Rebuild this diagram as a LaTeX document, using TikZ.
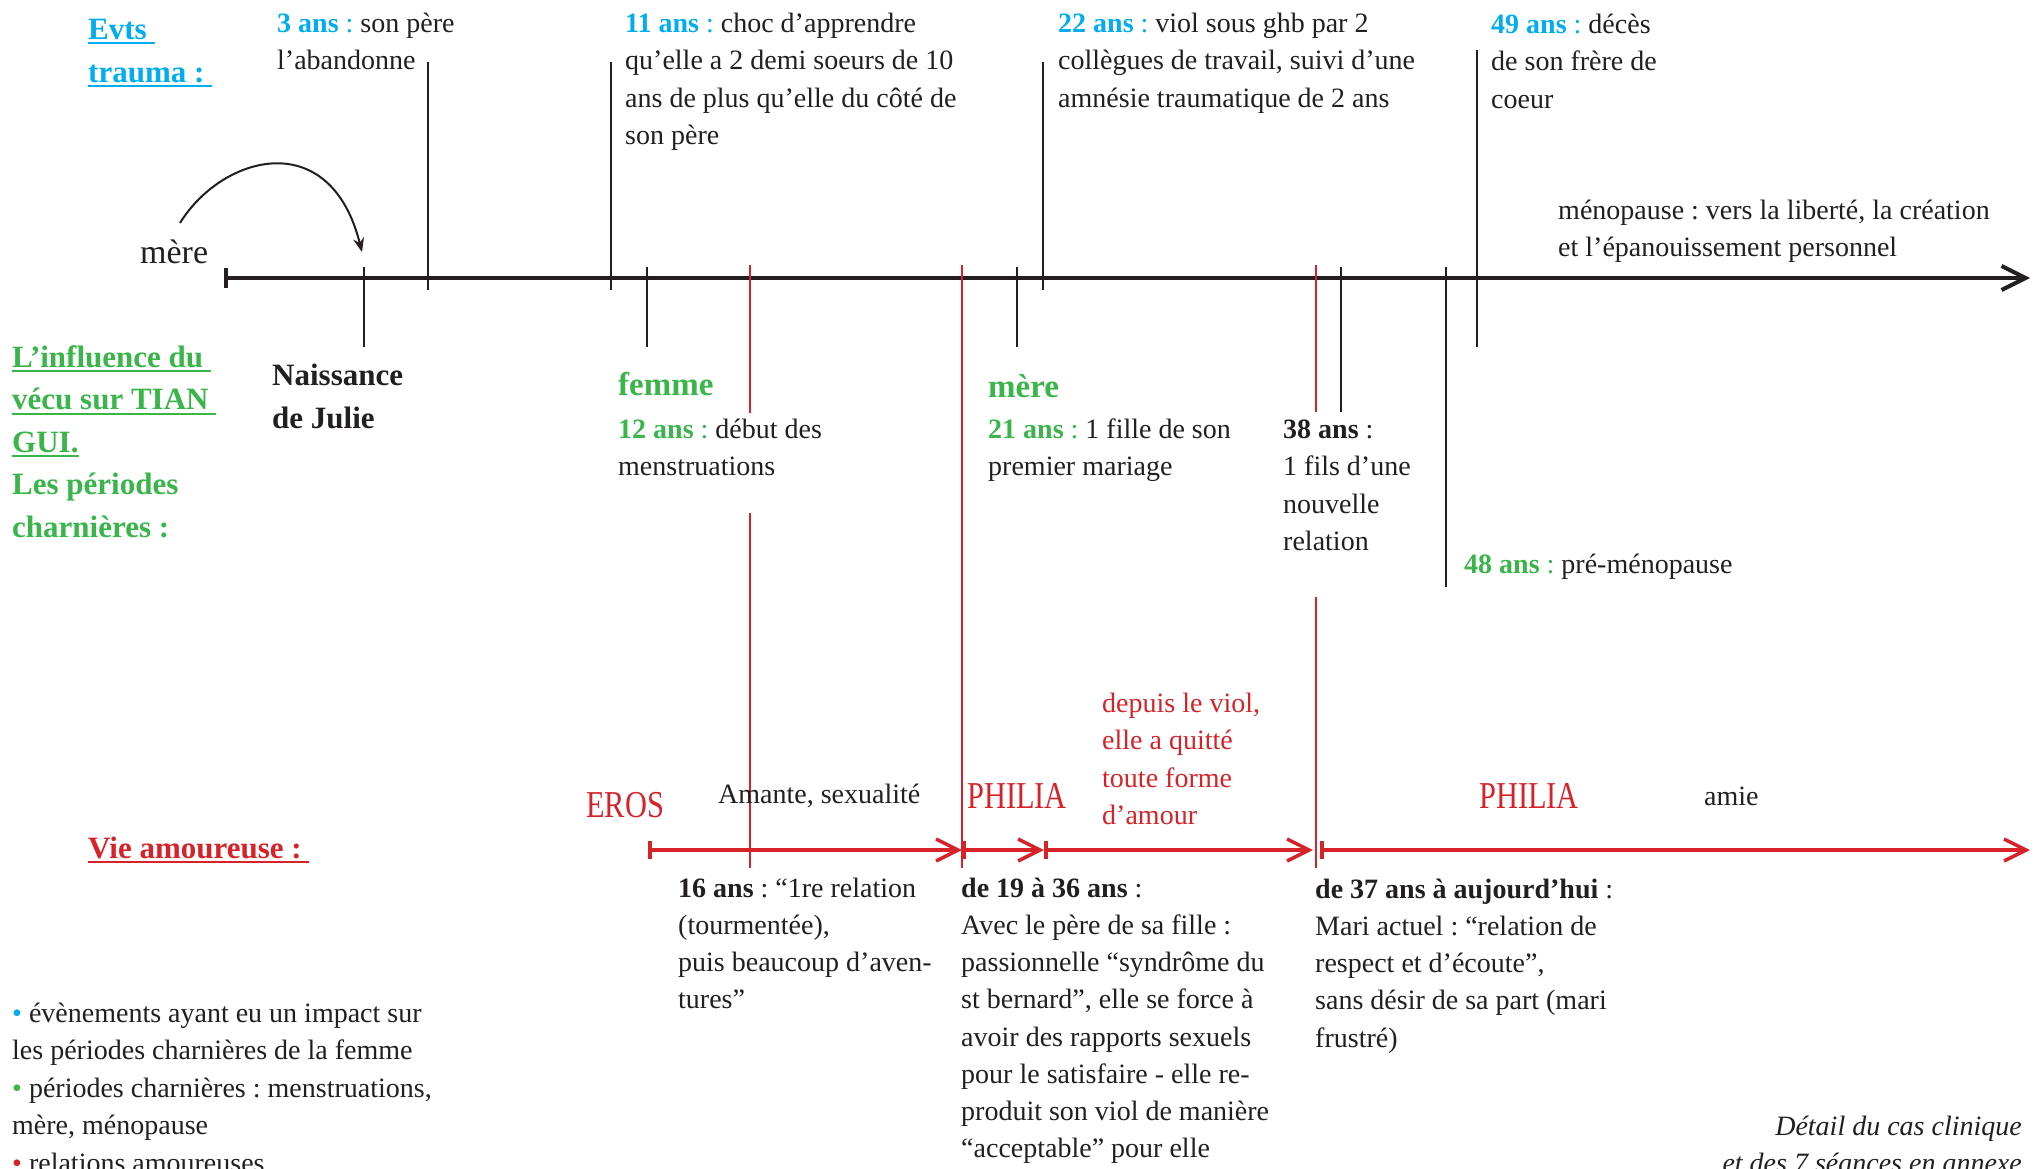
\documentclass[tikz,border=0pt]{standalone}
\usepackage{fontspec}
\setmainfont{Liberation Serif}
\usepackage{graphicx}
\usetikzlibrary{arrows.meta}
\frenchspacing
\definecolor{cy}{RGB}{0,174,239}
\definecolor{gr}{RGB}{57,181,74}
\definecolor{rd}{RGB}{214,35,42}
\definecolor{ink}{RGB}{35,31,32}
\newcommand{\fs}{\rule{0pt}{22pt}}
\newcommand{\hs}{\rule{0pt}{25pt}}
\newcommand{\uln}[1]{\leavevmode\setbox0=\hbox{#1}\rlap{\rule[-5pt]{\wd0}{2pt}}\box0}
\newcommand{\cnd}[1]{\scalebox{0.8}[1]{#1}}
\newcommand{\ag}[2]{{\color{#1}\textbf{#2} :}}
\tikzset{
  txt/.style={inner sep=0pt, anchor=north west, align=left, text=ink, font=\fontsize{28}{37.5}\selectfont},
  txtb/.style={txt, font=\fontsize{28}{37.2}\selectfont},
  one/.style={inner sep=0pt, anchor=base west, text=ink, font=\fontsize{28}{37.5}\selectfont},
  hd/.style={inner sep=0pt, anchor=north west, align=left, font=\bfseries\fontsize{31}{43}\selectfont},
  big/.style={inner sep=0pt, anchor=base west, text=gr, font=\bfseries\fontsize{33}{40}\selectfont},
  greek/.style={inner sep=0pt, anchor=base west, text=rd, font=\fontsize{38}{40}\selectfont},
  axisline/.style={line width=4pt, draw=ink, {Bar[width=20pt]}-{Straight Barb[length=24pt,width=24pt]}},
  tick/.style={line width=2.4pt, draw=ink},
  redtick/.style={line width=2pt, draw=rd},
  loveline/.style={line width=3.5pt, draw=rd},
  lovebar/.style={{Bar[width=18pt]}-{Straight Barb[length=22pt,width=22pt]}},
  curvy/.style={line width=2pt, draw=ink, -{Stealth[length=14pt,width=11pt]}}
}
\begin{document}
\begin{tikzpicture}[x=1pt,y=-1pt]
\useasboundingbox (0,0) rectangle (2038,1168);
\fill[white] (0,0) rectangle (2038,1168);

% ---- main axis and ticks
\coordinate (axL) at (224,278);
\coordinate (axR) at (2030,278);
\draw[axisline] (axL) -- (axR);

\draw[tick] (364,267) -- (364,347);
\draw[tick] (428,62) -- (428,290);
\draw[tick] (611,62) -- (611,290);
\draw[tick] (647,267) -- (647,347);
\draw[tick] (1017,267) -- (1017,347);
\draw[tick] (1043,62) -- (1043,290);
\draw[tick] (1341,267) -- (1341,412);
\draw[tick] (1446,267) -- (1446,587);
\draw[tick] (1477,50) -- (1477,347);

\draw[redtick] (750,265) -- (750,413);
\draw[redtick] (750,513) -- (750,868);
\draw[redtick] (962,265) -- (962,868);
\draw[redtick] (1316,265) -- (1316,412);
\draw[redtick] (1316,597) -- (1316,868);

% ---- love-life arrows
\coordinate (l1) at (648,850);
\coordinate (l2) at (962,850);
\coordinate (l3) at (1044,850);
\coordinate (l4) at (1313,850);
\coordinate (l5) at (1320,850);
\coordinate (l6) at (2030,850);
\draw[loveline, lovebar] (l1) -- (l2);
\draw[loveline, lovebar] (l2) -- (l3);
\draw[loveline, lovebar] (l3) -- (l4);
\draw[loveline, lovebar] (l5) -- (l6);

% ---- curved arrow
\node[one, font=\fontsize{34}{40}\selectfont] (mere1) at (140,263) {mère};
\coordinate (cvS) at (180,223);
\coordinate (cvE) at (362,252);
\draw[curvy] (cvS) .. controls (222,155) and (330,125) .. (cvE);

% ---- headings
\node[hd, text=cy] (evts) at (88,14) {\hs\uln{Evts\ }\\\uln{trauma :\ }};
\node[hd, text=gr, font=\bfseries\fontsize{31}{42.5}\selectfont] (infl) at (12,342)
  {\hs\uln{L’influence du\ }\\\uln{vécu sur TIAN\ }\\\uln{GUI.}\\Les périodes\\charnières :};
\node[hd, text=ink] (naiss) at (272,360) {\hs Naissance\\de Julie};
\node[hd, anchor=base west, text=rd] (vie) at (88,858) {\uln{Vie amoureuse :\ }};

% ---- trauma events
\node[txt] (tr3) at (277,10) {\fs\ag{cy}{3 ans} son père\\l’abandonne};
\node[txt] (tr11) at (625,10) {\fs\ag{cy}{11 ans} choc d’apprendre\\qu’elle a 2 demi soeurs de 10\\ans de plus qu’elle du côté de\\son père};
\node[txt] (tr22) at (1058,10) {\fs\ag{cy}{22 ans} viol sous ghb par 2\\collègues de travail, suivi d’une\\amnésie traumatique de 2 ans};
\node[txt] (tr49) at (1491,11) {\fs\ag{cy}{49 ans} décès\\de son frère de\\coeur};
\node[txt] (meno) at (1558,197) {\fs ménopause : vers la liberté, la création\\et l’épanouissement personnel};

% ---- pivotal periods
\node[big] (femme) at (618,395) {femme};
\node[txt] (t12) at (618,416) {\fs\ag{gr}{12 ans} début des\\menstruations};
\node[big] (mere2) at (988,397) {mère};
\node[txt] (t21) at (988,416) {\fs\ag{gr}{21 ans} 1 fille de son\\premier mariage};
\node[txt] (t38) at (1283,416) {\fs\textbf{38 ans} :\\1 fils d’une\\nouvelle\\relation};
\node[one] (t48) at (1464,573) {\ag{gr}{48 ans} pré-ménopause};

% ---- love life
\node[txt, text=rd] (depuis) at (1102,690) {\fs depuis le viol,\\elle a quitté\\toute forme\\d’amour};
\node[greek] (eros) at (586,817) {\cnd{EROS}};
\node[one] (amante) at (718,803) {Amante, sexualité};
\node[greek] (philia1) at (967,808) {\cnd{PHILIA}};
\node[greek] (philia2) at (1479,808) {\cnd{PHILIA}};
\node[one] (amie) at (1704,805) {amie};

\node[txtb] (t16) at (678,875) {\fs\textbf{16 ans} : “1re relation\\(tourmentée),\\puis beaucoup d’aven-\\tures”};
\node[txtb] (t19) at (961,875) {\fs\textbf{de 19 à 36 ans} :\\Avec le père de sa fille :\\passionnelle “syndrôme du\\st bernard”, elle se force à\\avoir des rapports sexuels\\pour le satisfaire - elle re-\\produit son viol de manière\\“acceptable” pour elle};
\node[txtb] (t37) at (1315,876) {\fs\textbf{de 37 ans à aujourd’hui} :\\Mari actuel : “relation de\\respect et d’écoute”,\\sans désir de sa part (mari\\frustré)};

% ---- legend and note
\node[txt] (legend) at (12,1000) {\fs{\color{cy}•} évènements ayant eu un impact sur\\les périodes charnières de la femme\\{\color{gr}•} périodes charnières : menstruations,\\mère, ménopause\\{\color{rd}•} relations amoureuses};
\node[txt, anchor=north east, align=right, font=\itshape\fontsize{28}{37.5}\selectfont] (detail) at (2022,1113) {\fs Détail du cas clinique\\et des 7 séances en annexe};
\end{tikzpicture}
\end{document}
